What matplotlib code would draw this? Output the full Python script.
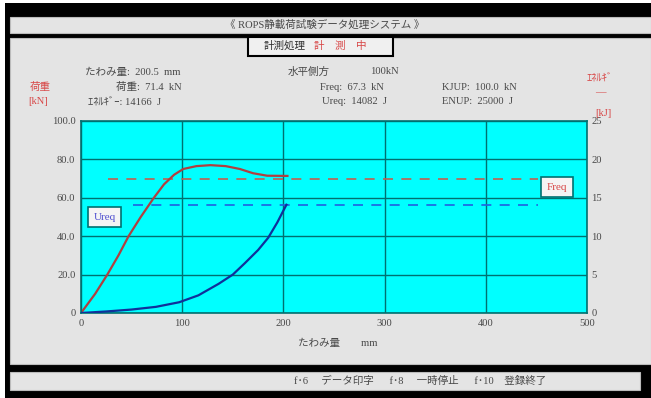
import numpy as np
import matplotlib
matplotlib.use('Agg')
import matplotlib.pyplot as plt
from matplotlib.patches import Rectangle

# --- data ---
load_defl = [0, 14, 26, 37, 47, 59, 72, 82, 92, 101, 114, 128, 143, 157, 170, 184, 204]
load_kn = [0, 10, 20, 30, 40, 50, 60, 67, 72, 75, 76.5, 77, 76.5, 75, 72.8, 71.5, 71.4]

energy_defl = [0, 25, 50, 74, 97, 116, 136, 150, 162, 175, 185, 194, 203]
energy_kj = [0, 0.2, 0.45, 0.8, 1.4, 2.3, 3.8, 5.0, 6.5, 8.2, 9.8, 11.8, 14.1]

freq_level = 69.8      # kN, red dashed
freq_span = [27, 452]
ureq_level = 14.0      # kJ, blue dashed
ureq_span = [51, 452]

x_ticks = [0, 100, 200, 300, 400, 500]
y_ticks = [0, 20, 40, 60, 80, 100]
y_ticklabels = ['0', '20.0', '40.0', '60.0', '80.0', '100.0']
y2_ticks = [0, 5, 10, 15, 20, 25]

W, H = 651, 398
FONT = ['Liberation Serif', 'Noto Sans CJK JP', 'DejaVu Sans']
plt.rcParams['font.family'] = FONT

GRAY = '#e4e4e4'
RED = '#d84848'
TXT = '#484848'
GRID = '#007070'
FS = 7.6


def box(x0, y0, x1, y1, **kw):
    # pixel coords, origin top-left; kept behind the chart
    r = Rectangle((x0 / W, 1 - y1 / H), (x1 - x0) / W, (y1 - y0) / H,
                  transform=fig.transFigure, zorder=-10, **kw)
    fig.add_artist(r)


def txt(x, y, s, **kw):
    kw.setdefault('fontsize', FS)
    kw.setdefault('color', TXT)
    kw.setdefault('va', 'center')
    fig.text(x / W, 1 - y / H, s, **kw)


fig = plt.figure(figsize=(W / 100, H / 100), dpi=100, facecolor='white')

# screen frame
box(5, 3, W, H, facecolor='black', edgecolor='none')
box(10, 17, W, 33, facecolor=GRAY, edgecolor='#bbbbbb', lw=0.8)
box(10, 38, W, 364, facecolor=GRAY, edgecolor='#bbbbbb', lw=0.8)
box(10, 372, 640, 390, facecolor=GRAY, edgecolor='#bbbbbb', lw=0.8)
box(248, 37, 393, 56, facecolor='#f0f0f0', edgecolor='black', lw=1.5)

txt(325, 25, '《 ROPS静載荷試験データ処理システム 》', ha='center')
txt(285, 46, '計測処理', ha='center', color='#303030')
txt(340, 46, '計　測　中', ha='center', color=RED)

# readouts
txt(85, 72, 'たわみ量:  200.5  mm')
txt(116, 87, '荷重:  71.4  kN')
txt(88, 102, 'ｴﾈﾙｷﾞｰ: 14166  J')
txt(288, 72, '水平側方')
txt(370, 72, '100kN')
txt(320, 87, 'Freq:  67.3  kN')
txt(322, 102, 'Ureq:  14082  J')
txt(442, 87, 'KJUP:  100.0  kN')
txt(442, 102, 'ENUP:  25000  J')
txt(30, 87, '荷重', color=RED)
txt(28, 102, '[kN]', color=RED)
txt(600, 78, 'ｴﾈﾙｷﾞ', color=RED, ha='center')
txt(600, 93, '―', color=RED, ha='center')
txt(603, 113, '[kJ]', color=RED, ha='center')

txt(338, 343, 'たわみ量　　mm', ha='center')
txt(420, 381, 'f･6　 データ印字　  f･8　 一時停止　  f･10　登録終了', ha='center')

# chart
ax = fig.add_axes([81 / W, 1 - 313 / H, (587 - 81) / W, (313 - 121) / H])
ax.set_facecolor('#00ffff')
ax.set_xlim(0, 500)
ax.set_ylim(0, 100)
ax.set_xticks(x_ticks)
ax.set_yticks(y_ticks)
ax.set_yticklabels(y_ticklabels)
ax.grid(True, color=GRID, lw=1.0)
ax.tick_params(length=0, labelsize=FS, labelcolor=TXT, pad=4)
for sp in ax.spines.values():
    sp.set_color(GRID)
    sp.set_linewidth(1.2)

ax2 = ax.twinx()
ax2.set_ylim(0, 25)
ax2.set_yticks(y2_ticks)
ax2.tick_params(length=0, labelsize=FS, labelcolor=TXT, pad=3)
for sp in ax2.spines.values():
    sp.set_visible(False)

ax.plot(freq_span, [freq_level, freq_level], color='#c06050', lw=1.2,
        dashes=(6, 5))
ax2.plot(ureq_span, [ureq_level, ureq_level], color='#2060e0', lw=1.2,
         dashes=(6, 5))
ax.plot(load_defl, load_kn, color='#b04040', lw=1.6)
ax2.plot(energy_defl, energy_kj, color='#10309a', lw=1.6)

ax.text(0.025, 0.50, 'Ureq', transform=ax.transAxes, fontsize=8,
        color='#5050d0', va='center',
        bbox=dict(boxstyle='square,pad=0.5', fc='#f4f4f4', ec=GRID, lw=1.2))
ax.text(0.92, 0.655, 'Freq', transform=ax.transAxes, fontsize=8,
        color=RED, va='center',
        bbox=dict(boxstyle='square,pad=0.5', fc='#f4f4f4', ec=GRID, lw=1.2))

fig.savefig('out.png', dpi=100, facecolor=fig.get_facecolor())
